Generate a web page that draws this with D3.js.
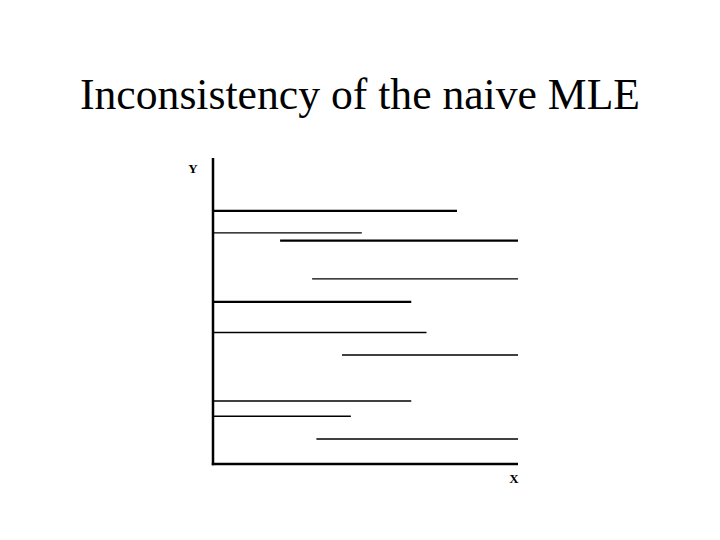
<!DOCTYPE html>
<html>
<head>
<meta charset="utf-8">
<script src="https://d3js.org/d3.v7.min.js"></script>
<style>
  body { margin: 0; background: white; }
</style>
</head>
<body>
<svg id="chart" width="720" height="540"></svg>
<script>
  // intervals: left end, right end, height, stroke weight
  const lefts = [0, 0, 2.2, 3.25, 0, 0, 4.23, 0, 0, 3.39];
  const rights = [8.0, 4.88, 10, 10, 6.5, 7.0, 10, 6.5, 4.52, 10];
  const heights = [8.27, 7.55, 7.3, 6.05, 5.3, 4.3, 3.56, 2.06, 1.56, 0.82];
  const weights = [2.2, 1.2, 2.2, 1.2, 2.2, 1.5, 1.5, 1.5, 1.5, 1.5];

  const svg = d3.select("#chart");

  svg.append("text")
    .attr("x", 360)
    .attr("y", 108.7)
    .attr("text-anchor", "middle")
    .attr("font-family", "Liberation Serif, Times New Roman, serif")
    .attr("font-size", 45)
    .attr("textLength", 560)
    .attr("lengthAdjust", "spacingAndGlyphs")
    .text("Inconsistency of the naive MLE");

  const x = d3.scaleLinear().domain([0, 10]).range([213, 518]);
  const y = d3.scaleLinear().domain([0, 10]).range([464, 158]);

  // axes drawn as plain lines
  svg.append("line")
    .attr("x1", x(0)).attr("x2", x(0))
    .attr("y1", y(10)).attr("y2", y(0) + 1.2)
    .attr("stroke", "black").attr("stroke-width", 2.5);
  svg.append("line")
    .attr("x1", x(0) - 1.2).attr("x2", x(10))
    .attr("y1", y(0)).attr("y2", y(0))
    .attr("stroke", "black").attr("stroke-width", 2.5);

  svg.selectAll("line.seg")
    .data(heights)
    .join("line")
    .attr("class", "seg")
    .attr("x1", (d, i) => x(lefts[i]))
    .attr("x2", (d, i) => x(rights[i]))
    .attr("y1", (d) => y(d))
    .attr("y2", (d) => y(d))
    .attr("stroke", "black")
    .attr("stroke-width", (d, i) => weights[i]);

  svg.append("text")
    .attr("x", 193).attr("y", 173)
    .attr("text-anchor", "middle")
    .attr("font-family", "Liberation Serif, Times New Roman, serif")
    .attr("font-weight", "bold")
    .attr("font-size", 13)
    .text("Y");

  svg.append("text")
    .attr("x", 514).attr("y", 482.5)
    .attr("text-anchor", "middle")
    .attr("font-family", "Liberation Serif, Times New Roman, serif")
    .attr("font-weight", "bold")
    .attr("font-size", 13)
    .text("X");
</script>
</body>
</html>
